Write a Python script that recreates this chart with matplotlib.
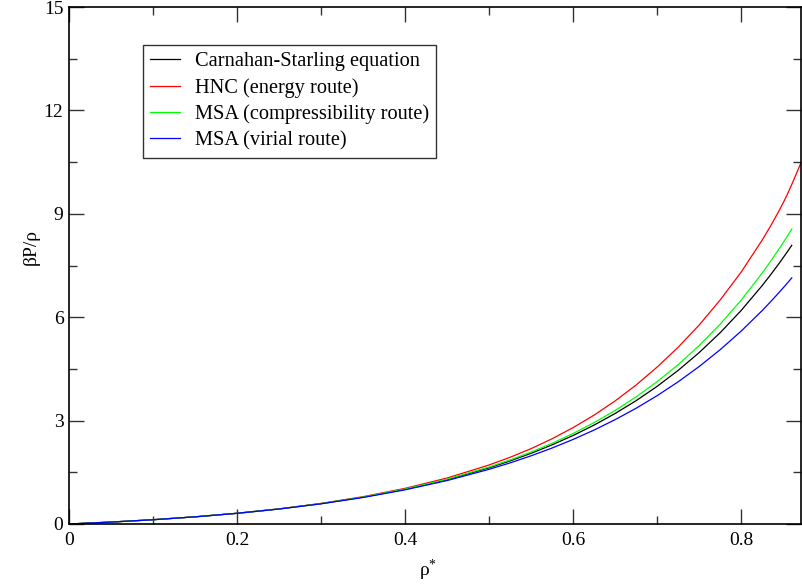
import numpy as np
import matplotlib
matplotlib.use("Agg")
import matplotlib.pyplot as plt

plt.rcParams['font.family'] = ['Liberation Serif', 'DejaVu Serif']
plt.rcParams['mathtext.fontset'] = 'custom'
plt.rcParams['mathtext.rm'] = 'Liberation Serif'
plt.rcParams['mathtext.it'] = 'Liberation Serif:italic'

# density values
rho = [0.0, 0.05, 0.1, 0.15, 0.2, 0.25, 0.3, 0.35, 0.4, 0.45, 0.5, 0.525,
       0.55, 0.575, 0.6, 0.625, 0.65, 0.675, 0.7, 0.725, 0.75, 0.775, 0.8,
       0.825, 0.835, 0.845, 0.85, 0.855, 0.86]
cs = [0.0, 0.056, 0.124, 0.208, 0.311, 0.436, 0.590, 0.778, 1.007, 1.288,
      1.631, 1.831, 2.052, 2.298, 2.570, 2.872, 3.208, 3.581, 3.997, 4.460,
      4.977, 5.554, 6.200, 6.923, 7.236, 7.564, 7.734, 7.908, 8.086]
msa_comp = [0.0, 0.056, 0.124, 0.208, 0.311, 0.437, 0.592, 0.782, 1.015,
            1.301, 1.654, 1.860, 2.089, 2.344, 2.628, 2.944, 3.297, 3.692,
            4.133, 4.626, 5.180, 5.801, 6.500, 7.286, 7.628, 7.986, 8.173,
            8.363, 8.559]
msa_vir = [0.0, 0.056, 0.124, 0.208, 0.310, 0.435, 0.586, 0.770, 0.992,
           1.261, 1.587, 1.774, 1.980, 2.206, 2.455, 2.728, 3.030, 3.361,
           3.726, 4.128, 4.572, 5.061, 5.601, 6.197, 6.453, 6.720, 6.857,
           6.997, 7.140]

rho_hnc = rho + [0.87, 0.875]
hnc = [0.0, 0.056, 0.124, 0.209, 0.312, 0.440, 0.598, 0.792, 1.035, 1.335,
       1.713, 1.937, 2.188, 2.475, 2.799, 3.162, 3.574, 4.036, 4.557, 5.133,
       5.778, 6.504, 7.316, 8.245, 8.654, 9.092, 9.327, 9.577, 9.849,
       10.424, 10.72]

labels = ['Carnahan-Starling equation', 'HNC (energy route)',
          'MSA (compressibility route)', 'MSA (virial route)']
colors = ['black', '#ff0000', '#00ff00', '#0000ff']


def main():
    fig = plt.figure(figsize=(8.03, 5.86), dpi=100)
    ax = fig.add_axes([69 / 803, 62 / 586, 732 / 803, 517 / 586])

    ax.plot(rho, cs, color=colors[0], lw=0.9, label=labels[0])
    ax.plot(rho_hnc, hnc, color=colors[1], lw=0.9, label=labels[1])
    ax.plot(rho, msa_comp, color=colors[2], lw=0.9, label=labels[2])
    ax.plot(rho, msa_vir, color=colors[3], lw=0.9, label=labels[3])

    ax.set_xlim(0, 0.871)
    ax.set_ylim(0, 15)
    ax.set_xticks([0, 0.2, 0.4, 0.6, 0.8])
    ax.set_xticklabels(['0', '0.2', '0.4', '0.6', '0.8'])
    ax.set_xticks(np.arange(0.1, 0.86, 0.2), minor=True)
    ax.set_yticks([0, 3, 6, 9, 12, 15])
    ax.set_yticks(np.arange(1.5, 15, 3), minor=True)

    ax.tick_params(which='both', direction='in', top=True, right=True,
                   labelsize=14, width=1.0, color='#333333')
    ax.tick_params(which='major', length=11)
    ax.tick_params(which='minor', length=5.5)
    ax.tick_params(axis='x', pad=6)
    ax.tick_params(axis='y', pad=4)
    for s in ax.spines.values():
        s.set_linewidth(1.2)

    ax.set_ylabel('βP/ρ', fontsize=14)
    ax.yaxis.set_label_coords(-0.04, 0.535)
    ax.set_xlabel(r'$\mathregular{\rho^{*}}$', fontsize=14)
    ax.xaxis.set_label_coords(0.49, -0.065)

    leg = ax.legend(loc='upper left', bbox_to_anchor=(0.101, 0.9265),
                    borderaxespad=0, fontsize=14.7, frameon=True, fancybox=False,
                    edgecolor='black', handlelength=1.45, handletextpad=0.75,
                    labelspacing=0.33, borderpad=0.35)
    leg.get_frame().set_linewidth(1.0)

    fig.savefig('out.png', dpi=100)


if __name__ == "__main__":
    main()
